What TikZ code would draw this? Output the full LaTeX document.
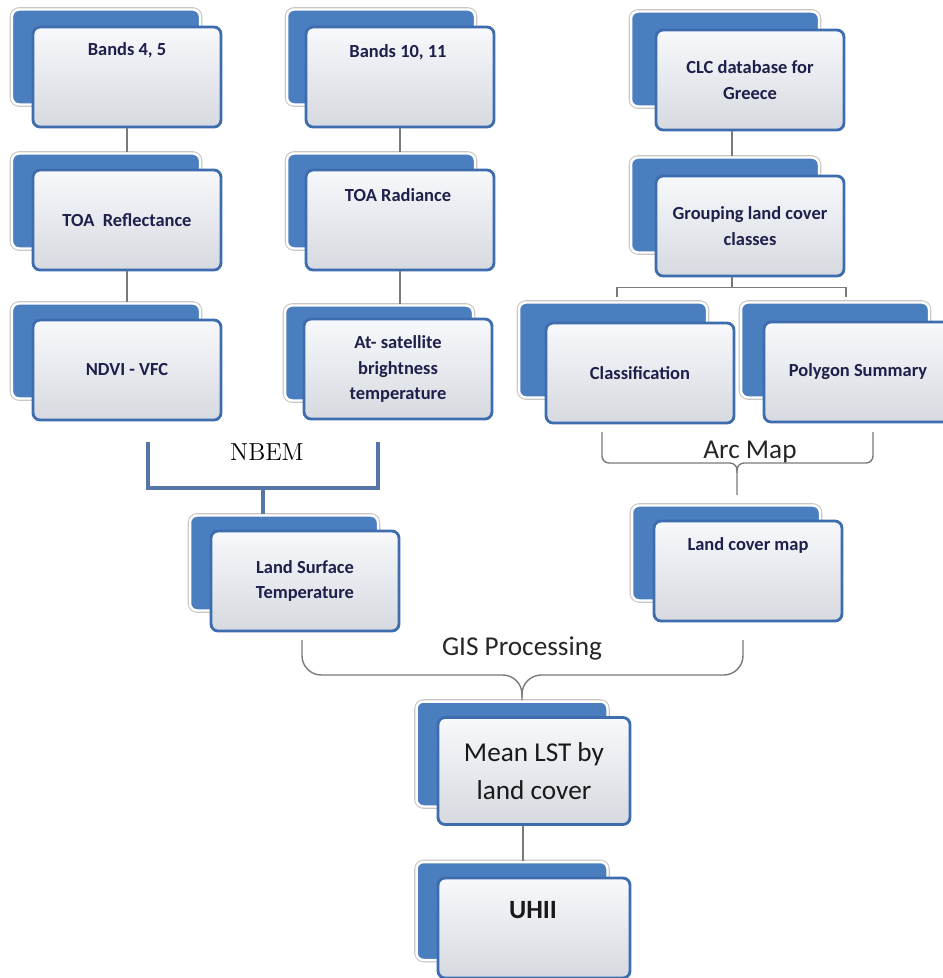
\documentclass[tikz,border=0pt]{standalone}
\usepackage{fontspec}
\usepackage{tikz}
\usetikzlibrary{positioning}
\newfontfamily\calibri{Carlito}
\definecolor{backblue}{HTML}{4A7EBF}
\definecolor{edgeblue}{HTML}{3D6DAE}
\definecolor{boxtop}{HTML}{F7F9FC}
\definecolor{boxmid}{HTML}{F1F3F7}
\definecolor{boxbot}{HTML}{D6D9DF}
\definecolor{navy}{HTML}{1E1F4B}
\definecolor{linkgray}{HTML}{7A7A7A}
\definecolor{nbemblue}{HTML}{5676A6}

\begin{document}
\begin{tikzpicture}[x=0.02cm,y=-0.02cm,
  backbox/.style={rectangle,rounded corners=4pt,fill=backblue,draw=white,line width=1.4pt,
    preaction={draw=gray!45,line width=2.6pt},minimum width=3.76cm,minimum height=1.9cm},
  frontbox/.style={rectangle,rounded corners=4pt,draw=edgeblue,line width=1.6pt,
    top color=boxtop,middle color=boxmid,bottom color=boxbot,minimum width=3.76cm,minimum height=2cm,
    align=center,text=navy,font=\calibri\bfseries\fontsize{10.5}{14.5}\selectfont},
  boxtext/.style={align=center,text=navy,font=\calibri\bfseries\fontsize{10.5}{14.5}\selectfont},
  headtext/.style={text=black!85,font=\calibri\fontsize{15.5}{18}\selectfont},
  link/.style={draw=linkgray,line width=0.8pt},
  brace/.style={draw=linkgray,line width=0.8pt},
  nbem/.style={draw=nbemblue,line width=1.8pt}]
\useasboundingbox (0,0) rectangle (943,978);
\clip (0,0) rectangle (943,978);
% left column
\node[backbox] (b45b) at (106,57) {};
\node[frontbox] (b45) at (127,77) {};
\node[boxtext] (b45t) at (127,50) {Bands 4, 5};
\node[backbox] (toarefb) at (106,201) {};
\node[frontbox] (toaref) at (127,220) {TOA\ \ Reflectance};
\node[backbox] (ndvib) at (106,351) {};
\node[frontbox] (ndvi) at (127,370) {NDVI - VFC};
% second column
\node[backbox] (b1011b) at (381,57) {};
\node[frontbox] (b1011) at (400,77) {};
\node[boxtext] (b1011t) at (398,52) {Bands 10, 11};
\node[backbox] (toaradb) at (381,201) {};
\node[frontbox] (toarad) at (400,220) {};
\node[boxtext] (toaradt) at (398,195) {TOA Radiance};
\node[backbox] (atsatb) at (379,353) {};
\node[frontbox] (atsat) at (398,369) {At- satellite\\brightness\\temperature};
% land cover column
\node[backbox] (clcb) at (725,59) {};
\node[frontbox] (clc) at (750,80) {CLC database for\\Greece};
\node[backbox] (groupb) at (725,205) {};
\node[frontbox] (group) at (750,226) {Grouping land cover\\classes};
\node[backbox] (classifb) at (613,350) {};
\node[frontbox] (classif) at (640,373) {Classification};
\node[backbox] (polysumb) at (835,350) {};
\node[frontbox] (polysum) at (858,372) {Polygon Summary};
% results
\node[backbox] (lstb) at (284,563) {};
\node[frontbox] (lst) at (305,581) {Land Surface\\Temperature};
\node[backbox] (lcmapb) at (726,553) {};
\node[frontbox] (lcmap) at (748,571) {};
\node[boxtext] (lcmapt) at (748,545) {Land cover map};
\node[backbox,minimum width=3.82cm,minimum height=2.1cm] (meanlstb) at (512,754) {};
\node[frontbox,minimum width=3.84cm,minimum height=2.14cm,text=black!90,
  font=\calibri\fontsize{15.5}{21.5}\selectfont] (meanlst) at (534,771) {Mean LST by\\land cover};
\node[backbox,minimum width=3.82cm,minimum height=1.96cm] (uhiib) at (512,911) {};
\node[frontbox,minimum width=3.84cm,minimum height=2cm] (uhii) at (534,928) {};
\node[boxtext,text=black!90,font=\calibri\bfseries\fontsize{15}{18}\selectfont] (uhiit) at (533,910) {UHII};
% vertical links
\draw[link] (b45.south) -- (b45.south |- toarefb.north);
\draw[link] (toaref.south) -- (toaref.south |- ndvib.north);
\draw[link] (b1011.south) -- (b1011.south |- toaradb.north);
\draw[link] (toarad.south) -- (toarad.south |- atsatb.north);
\coordinate (spine) at (732,0);
\draw[link] (clc.south -| spine) -- (groupb.north -| spine);
\draw[link] (group.south -| spine) -- ++(0,10) coordinate (fork);
\coordinate (forkL) at (617,297);
\coordinate (forkR) at (846,297);
\draw[link] (forkL) |- (fork) -| (forkR);
\coordinate (mspine) at (523,0);
\draw[link] (meanlst.south -| mspine) -- (uhiib.north -| mspine);
% NBEM bracket
\coordinate (nbemL) at (148,442);
\coordinate (nbemR) at (378,442);
\coordinate (nbemS) at (263,488);
\draw[nbem] (nbemL) |- (nbemR |- nbemS) -- (nbemR);
\draw[nbem] (nbemS) -- (nbemS |- lstb.north);
\node[anchor=base,font=\rmfamily\fontsize{14}{16}\selectfont] (nbemtxt) at (267,460) {NBEM};
% Arc Map brace
\coordinate (amL) at (602,432);
\coordinate (amR) at (873,432);
\coordinate (amS) at (737,463);
\draw[brace,rounded corners=4pt] (amL) |- (amS) -- ++(0,32);
\draw[brace,rounded corners=4pt] (amR) |- (amS) -- ++(0,10);
\node[headtext,anchor=base] (arcmap) at (750,458) {Arc Map};
% GIS Processing brace
\coordinate (gpL) at (302,640);
\coordinate (gpR) at (743,640);
\coordinate (gpS) at (522,675);
\draw[brace,rounded corners=11pt] (gpL) |- (gpS) -- (gpS |- meanlstb.north);
\draw[brace,rounded corners=11pt] (gpR) |- (gpS) -- ++(0,22);
\node[headtext,anchor=base] (gisproc) at (522,655) {GIS Processing};
\end{tikzpicture}
\end{document}
